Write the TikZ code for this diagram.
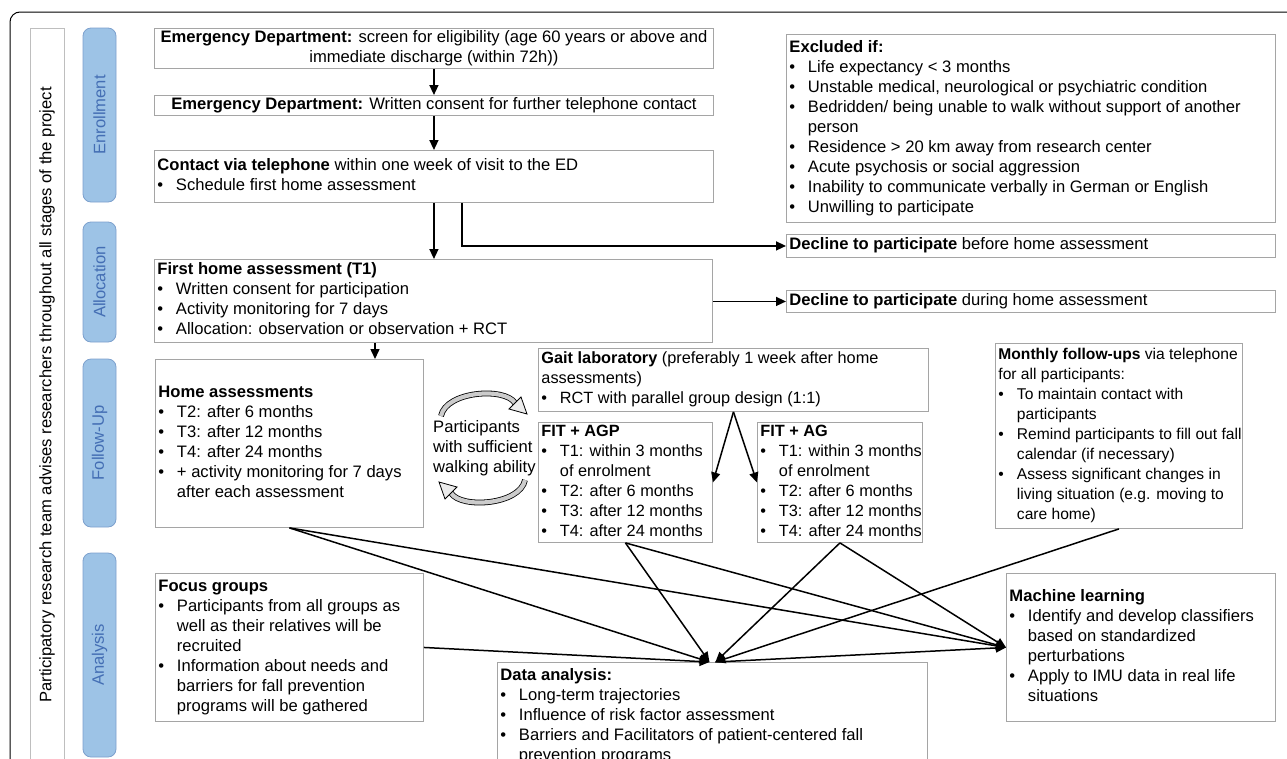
\documentclass[tikz,border=0pt]{standalone}
\usepackage{fontspec}
\setmainfont{Liberation Sans}
\usetikzlibrary{arrows.meta}
\definecolor{boxgray}{RGB}{165,165,165}
\definecolor{panelgray}{RGB}{190,190,190}
\definecolor{stagefill}{RGB}{157,195,230}
\definecolor{stageedge}{RGB}{125,160,205}
\definecolor{stagetext}{RGB}{68,110,180}
\newcommand\bul{\makebox[18.5pt][l]{•}}
\newcommand\ind{\hspace*{18.5pt}}
\newcommand\tb[2]{\makebox[#1][l]{\begin{tabular}{@{}l@{}}#2\end{tabular}}}
\newcommand\tc[1]{\begin{tabular}{@{}c@{}}#1\end{tabular}}
\begin{document}
\begin{tikzpicture}[x=1pt,y=-1pt,
  font=\fontsize{16.6pt}{20pt}\selectfont,
  box/.style={draw=boxgray, line width=0.9pt, inner xsep=3pt, inner ysep=0pt, anchor=north west},
  stage/.style={draw=stageedge, fill=stagefill, rounded corners=8pt, rotate=90,
    minimum height=33pt, text=stagetext, line width=0.8pt, inner sep=0pt},
  arr/.style={line width=1.5pt, -{Triangle[length=10pt,width=9pt]}},
  bandline/.style={double=gray!40, double distance=4.2pt, line width=0.8pt},
  bandhead/.style={fill=gray!15, draw=black, line width=0.8pt, line join=miter}]
\useasboundingbox (0,0) rectangle (1287,758);
\clip (0,0) rectangle (1287,758);

% outer frame
\draw[line width=1pt, rounded corners=10pt] (1300,12) -- (10,12) -- (10,790);

% left panel
\node[draw=panelgray, line width=0.8pt, rotate=90, minimum width=734pt, minimum height=34pt, inner sep=0pt]
  (panel) at (47,395) {Participatory research team advises researchers throughout all stages of the project};

% stage labels
\node[stage, minimum width=174pt] (s1) at (99.5,115) {Enrollment};
\node[stage, minimum width=120pt] (s2) at (99.5,282) {Allocation};
\node[stage, minimum width=168pt] (s3) at (99.5,443) {Follow-Up};
\node[stage, minimum width=204pt] (s4) at (99.5,655) {Analysis};

% boxes
\node[box, minimum width=559pt, minimum height=40pt] (ed1) at (154,28)
 {\tc{\textbf{Emergency Department:} screen for eligibility (age 60 years or above and\\ immediate discharge (within 72h))}};
\node[box, minimum width=559pt, minimum height=20pt] (ed2) at (154,95)
 {\tc{\textbf{Emergency Department:} Written consent for further telephone contact}};
\node[box, minimum width=559pt, minimum height=52pt] (contact) at (154,150)
 {\tb{553pt}{\textbf{Contact via telephone} within one week of visit to the ED\\ \bul Schedule first home assessment}};
\node[box, minimum width=558pt, minimum height=83pt] (t1) at (154,259)
 {\tb{552pt}{\textbf{First home assessment (T1)}\\ \bul Written consent for participation\\ \bul Activity monitoring for 7 days\\ \bul Allocation: observation or observation + RCT}};
\node[box, minimum width=489pt, minimum height=188pt] (excl) at (786,34)
 {\tb{483pt}{\textbf{Excluded if:}\\ \bul Life expectancy < 3 months\\ \bul Unstable medical, neurological or psychiatric condition\\ \bul Bedridden/ being unable to walk without support of another\\ \ind person\\ \bul Residence > 20 km away from research center\\ \bul Acute psychosis or social aggression\\ \bul Inability to communicate verbally in German or English\\ \bul Unwilling to participate}};
\node[box, minimum width=489pt, minimum height=23pt] (dec1) at (786,234)
 {\tb{483pt}{\textbf{Decline to participate} before home assessment}};
\node[box, minimum width=489pt, minimum height=22pt] (dec2) at (786,290)
 {\tb{483pt}{\textbf{Decline to participate} during home assessment}};
\node[box, minimum width=268pt, minimum height=168pt] (home) at (155,359)
 {\tb{262pt}{\textbf{Home assessments}\\ \bul T2: after 6 months\\ \bul T3: after 12 months\\ \bul T4: after 24 months\\ \bul + activity monitoring for 7 days\\ \ind after each assessment}};
\node[box, minimum width=390pt, minimum height=63pt, font=\fontsize{16.3pt}{20pt}\selectfont] (gait) at (538,348)
 {\tb{384pt}{\textbf{Gait laboratory} (preferably 1 week after home\\ assessments)\\ \bul RCT with parallel group design (1:1)}};
\node[box, minimum width=174pt, minimum height=120pt, font=\fontsize{16.3pt}{20pt}\selectfont] (agp) at (538,422)
 {\tb{168pt}{\textbf{FIT + AGP}\\ \bul T1: within 3 months\\ \ind of enrolment\\ \bul T2: after 6 months\\ \bul T3: after 12 months\\ \bul T4: after 24 months}};
\node[box, minimum width=165pt, minimum height=120pt, font=\fontsize{16.3pt}{20pt}\selectfont] (ag) at (757,422)
 {\tb{159pt}{\textbf{FIT + AG}\\ \bul T1: within 3 months\\ \ind of enrolment\\ \bul T2: after 6 months\\ \bul T3: after 12 months\\ \bul T4: after 24 months}};
\node[box, minimum width=247pt, minimum height=185pt, font=\fontsize{15.6pt}{20pt}\selectfont] (month) at (995,343)
 {\tb{241pt}{\textbf{Monthly follow-ups} via telephone\\ for all participants:\\ \bul To maintain contact with\\ \ind participants\\ \bul Remind participants to fill out fall\\ \ind calendar (if necessary)\\ \bul Assess significant changes in\\ \ind living situation (e.g. moving to\\ \ind care home)}};
\node[box, minimum width=268pt, minimum height=148pt] (focus) at (155,573)
 {\tb{262pt}{\textbf{Focus groups}\\ \bul Participants from all groups as\\ \ind well as their relatives will be\\ \ind recruited\\ \bul Information about needs and\\ \ind barriers for fall prevention\\ \ind programs will be gathered}};
\node[box, minimum width=430pt, minimum height=108pt] (data) at (497,662)
 {\tb{424pt}{\textbf{Data analysis:}\\ \bul Long-term trajectories\\ \bul Influence of risk factor assessment\\ \bul Barriers and Facilitators of patient-centered fall\\ \ind prevention programs}};
\node[box, minimum width=269pt, minimum height=148pt] (ml) at (1006,573)
 {\tb{263pt}{\textbf{Machine learning}\\ \bul Identify and develop classifiers\\ \ind based on standardized\\ \ind perturbations\\ \bul Apply to IMU data in real life\\ \ind situations}};

% walking ability note with circular arrows
\node[anchor=west, inner sep=0pt] (walk) at (433,448)
 {\begin{tabular}{@{}l@{}}Participants\\ with sufficient\\ walking ability\end{tabular}};
\draw[bandline] (441,416) .. controls (446,391) and (505,387) .. (515,403);
\filldraw[bandhead] (521,397) -- (527,414) -- (509,409) -- cycle;
\draw[bandline] (525,480) .. controls (520,505) and (461,509) .. (451,493);
\filldraw[bandhead] (445,499) -- (439,482) -- (457,487) -- cycle;

% flow arrows
\draw[arr] (ed1.south) -- (ed2.north);
\draw[arr] (ed2.south) -- (contact.north);
\draw[arr] (contact.south) -- (contact.south |- t1.north);
\draw[arr] ([xshift=28pt]contact.south) |- (dec1.west);
\draw[arr] (t1.east |- dec2.west) -- (dec2.west);
\draw[arr] ([xshift=221pt]t1.south west) -- ([xshift=221pt]t1.south west |- home.north);
\draw[arr] (gait.south) -- (agp.east);
\draw[arr] (gait.south) -- (ag.west);

\coordinate (dl) at ([xshift=-3pt]data.north);
\coordinate (dr) at ([xshift=3pt]data.north);
\draw[arr] (home.south) -- (dl);
\draw[arr] (home.south) -- (ml.west);
\draw[arr] (focus.east) -- (dl);
\draw[arr] (agp.south) -- (dl);
\draw[arr] (agp.south) -- (ml.west);
\draw[arr] (ag.south) -- (dr);
\draw[arr] (ag.south) -- (ml.west);
\draw[arr] (month.south) -- (dr);
\draw[arr] (dr) -- (ml.west);
\end{tikzpicture}
\end{document}
